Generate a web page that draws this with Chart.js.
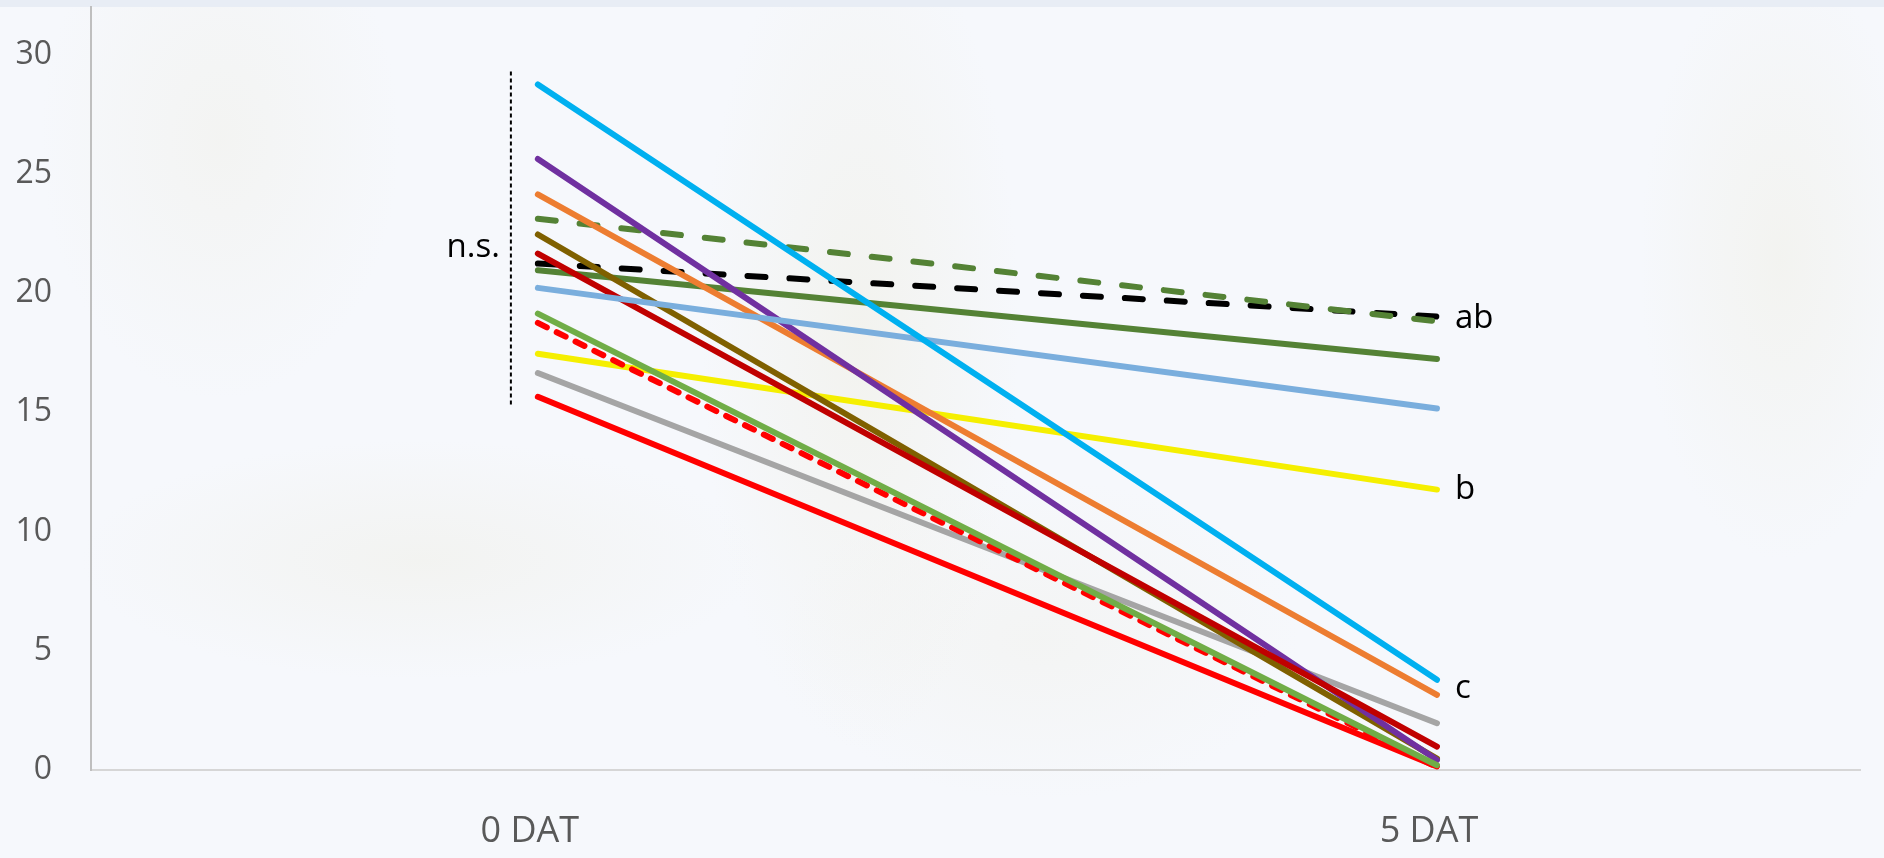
<!DOCTYPE html>
<html lang="en">
<head>
    <meta charset="UTF-8">
    <title>DAT</title>
    <style>
        html, body {
            margin: 0;
            padding: 0;
        }
        body {
            width: 1884px;
            height: 858px;
            overflow: hidden;
            background:
                linear-gradient(#e8edf5 0, #e8edf5 7px, transparent 7px),
                radial-gradient(ellipse 160px 420px at 860px 330px, rgba(238, 236, 222, 0.45), transparent),
                radial-gradient(ellipse 340px 120px at 420px 560px, rgba(236, 234, 220, 0.35), transparent),
                radial-gradient(ellipse 180px 260px at 220px 140px, rgba(238, 236, 224, 0.35), transparent),
                radial-gradient(ellipse 140px 300px at 1780px 260px, rgba(238, 236, 222, 0.4), transparent),
                radial-gradient(ellipse 260px 160px at 1040px 640px, rgba(238, 236, 224, 0.3), transparent),
                #f6f8fc;
        }
        canvas {
            display: block;
        }
    </style>
    <script src="https://cdn.jsdelivr.net/npm/chart.js"></script>
</head>
<body>
    <canvas id="chart" width="1884" height="858"></canvas>

    <script>
        var categories = ['0 DAT', '5 DAT'];

        // one pair (0 DAT, 5 DAT) per treatment line
        var cyan       = [28.75, 3.78];
        var purple     = [25.63, 0.42];
        var orange     = [24.14, 3.15];
        var greenDash  = [23.12, 18.82];
        var brown      = [22.46, 0.48];
        var darkRed    = [21.66, 0.98];
        var blackDash  = [21.24, 19.02];
        var darkGreen  = [20.96, 17.24];
        var lightBlue  = [20.22, 15.16];
        var lightGreen = [19.14, 0.20];
        var redDash    = [18.75, 0.12];
        var yellow     = [17.46, 11.76];
        var gray       = [16.65, 1.96];
        var red        = [15.65, 0.15];

        var yTicks = [0, 5, 10, 15, 20, 25, 30];

        // significance letters next to the 5 DAT ends
        var letters = ['ab', 'b', 'c'];
        var letterValues = [18.95, 11.76, 3.4];
        var nsRange = [15.25, 29.3];

        function line(label, values, color, dash) {
            return {
                label: label,
                data: values.map(function(v, i) { return { x: i, y: v }; }),
                borderColor: color,
                borderWidth: 6,
                borderDash: dash || [],
                borderCapStyle: 'round',
                pointRadius: 0,
                fill: false,
                tension: 0
            };
        }

        var notes = {
            id: 'notes',
            afterDatasetsDraw: function(chart) {
                var ctx = chart.ctx;
                var x = chart.scales.x;
                var y = chart.scales.y;
                ctx.save();

                var bx = x.getPixelForValue(-0.03);
                ctx.strokeStyle = '#000';
                ctx.lineWidth = 2;
                ctx.setLineDash([4, 3]);
                ctx.beginPath();
                ctx.moveTo(bx, y.getPixelForValue(nsRange[1]));
                ctx.lineTo(bx, y.getPixelForValue(nsRange[0]));
                ctx.stroke();
                ctx.setLineDash([]);

                ctx.fillStyle = '#000';
                ctx.font = '33px "Open Sans"';
                ctx.textBaseline = 'middle';
                ctx.textAlign = 'right';
                ctx.fillText('n.s.', bx - 11, y.getPixelForValue(21.9));

                ctx.textAlign = 'left';
                var ex = x.getPixelForValue(1);
                for (var i = 0; i < letters.length; i++) {
                    ctx.fillText(letters[i], ex + 18, y.getPixelForValue(letterValues[i]));
                }
                ctx.restore();
            }
        };

        new Chart(document.getElementById('chart'), {
            type: 'line',
            data: {
                datasets: [
                    line('cyan', cyan, '#00b0f0'),
                    line('light blue', lightBlue, '#7aaedd'),
                    line('dark red', darkRed, '#c00000'),
                    line('light green', lightGreen, '#70ad47'),
                    line('purple', purple, '#7030a0'),
                    line('orange', orange, '#ed7d31'),
                    line('green dash', greenDash, '#548235', [18, 24]),
                    line('brown', brown, '#7f6000'),
                    line('black dash', blackDash, '#000000', [18, 24]),
                    line('dark green', darkGreen, '#548235'),
                    line('red dash', redDash, '#ff0000', [10, 11]),
                    line('yellow', yellow, '#f5ef00'),
                    line('gray', gray, '#a5a5a5'),
                    line('red', red, '#ff0000')
                ]
            },
            options: {
                responsive: false,
                animation: false,
                devicePixelRatio: 1,
                layout: {
                    padding: { top: 7, right: 24, left: 0, bottom: 0 }
                },
                plugins: {
                    legend: { display: false },
                    tooltip: { enabled: false }
                },
                scales: {
                    x: {
                        type: 'linear',
                        min: -0.497,
                        max: 1.4705,
                        afterBuildTicks: function(axis) {
                            axis.ticks = categories.map(function(c, i) { return { value: i }; });
                        },
                        afterFit: function(axis) {
                            axis.height = 88;
                            axis.paddingLeft = 0;
                            axis.paddingRight = 0;
                        },
                        grid: { display: false, drawTicks: false },
                        border: { display: true, color: '#d6d6d6', width: 2 },
                        ticks: {
                            padding: 40,
                            labelOffset: -8,
                            color: '#595959',
                            font: { family: 'Open Sans', size: 36 },
                            callback: function(v) { return categories[v]; }
                        }
                    },
                    y: {
                        min: 0,
                        max: 32,
                        afterBuildTicks: function(axis) {
                            axis.ticks = yTicks.map(function(v) { return { value: v }; });
                        },
                        afterFit: function(axis) {
                            axis.width = 91;
                            axis.paddingTop = 0;
                            axis.paddingBottom = 0;
                        },
                        grid: { display: false, drawTicks: false },
                        border: { display: true, color: '#bfbfbf', width: 2 },
                        ticks: {
                            padding: 39,
                            color: '#595959',
                            font: { family: 'Open Sans', size: 32 }
                        }
                    }
                }
            },
            plugins: [notes]
        });
    </script>
</body>
</html>
